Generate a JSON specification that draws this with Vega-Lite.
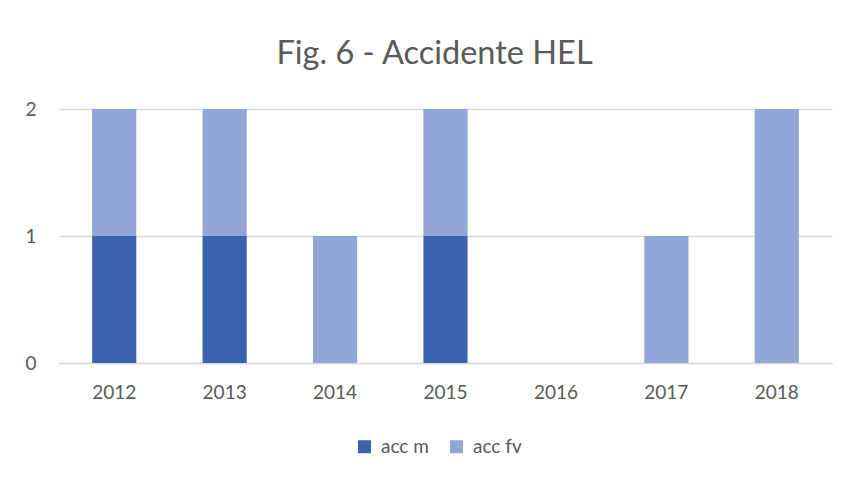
{
  "$schema": "https://vega.github.io/schema/vega-lite/v6.json",
  "autosize": "none",
  "width": 773,
  "height": 254,
  "padding": {"left": 59, "top": 109, "right": 16, "bottom": 116},
  "background": "white",
  "title": {
    "text": "Fig. 6 - Accidente HEL",
    "font": "Lato",
    "fontSize": 32.5,
    "fontWeight": "normal",
    "color": "#595959",
    "anchor": "middle",
    "dx": -11,
    "offset": 30
  },
  "data": {
    "values": [
      {"year": "2012", "series": "acc m", "value": 1, "ord": 0},
      {"year": "2012", "series": "acc fv", "value": 1, "ord": 1},
      {"year": "2013", "series": "acc m", "value": 1, "ord": 0},
      {"year": "2013", "series": "acc fv", "value": 1, "ord": 1},
      {"year": "2014", "series": "acc m", "value": 0, "ord": 0},
      {"year": "2014", "series": "acc fv", "value": 1, "ord": 1},
      {"year": "2015", "series": "acc m", "value": 1, "ord": 0},
      {"year": "2015", "series": "acc fv", "value": 1, "ord": 1},
      {"year": "2016", "series": "acc m", "value": 0, "ord": 0},
      {"year": "2016", "series": "acc fv", "value": 0, "ord": 1},
      {"year": "2017", "series": "acc m", "value": 0, "ord": 0},
      {"year": "2017", "series": "acc fv", "value": 1, "ord": 1},
      {"year": "2018", "series": "acc m", "value": 0, "ord": 0},
      {"year": "2018", "series": "acc fv", "value": 2, "ord": 1}
    ]
  },
  "mark": {"type": "bar"},
  "encoding": {
    "x": {
      "field": "year",
      "type": "nominal",
      "scale": {"paddingInner": 0.6, "paddingOuter": 0.3},
      "axis": {
        "title": null,
        "labelAngle": 0,
        "labelFont": "Lato",
        "labelFontSize": 19,
        "labelColor": "#595959",
        "labelPadding": 20,
        "ticks": false,
        "domainColor": "#d9d9d9",
        "domainWidth": 1.5
      }
    },
    "y": {
      "field": "value",
      "type": "quantitative",
      "stack": "zero",
      "scale": {"domain": [0, 2], "nice": false},
      "axis": {
        "title": null,
        "tickCount": 2,
        "tickMinStep": 1,
        "labelOverlap": false,
        "labelFont": "Lato",
        "labelFontSize": 19,
        "labelColor": "#595959",
        "labelPadding": 23,
        "ticks": false,
        "domain": false,
        "grid": true,
        "gridColor": "#d9d9d9",
        "gridWidth": 1.5
      }
    },
    "color": {
      "field": "series",
      "type": "nominal",
      "scale": {"domain": ["acc m", "acc fv"], "range": ["#3a63ad", "#8fa6d6"]},
      "legend": {
        "title": null,
        "orient": "none",
        "legendX": 296,
        "legendY": 328,
        "direction": "horizontal",
        "symbolType": "square",
        "symbolSize": 169,
        "symbolStrokeWidth": 0,
        "labelFont": "Lato",
        "labelFontSize": 19,
        "labelColor": "#595959",
        "labelOffset": 7,
        "columnPadding": 18
      }
    },
    "order": {"field": "ord", "type": "quantitative"}
  },
  "config": {
    "view": {"stroke": null}
  }
}
